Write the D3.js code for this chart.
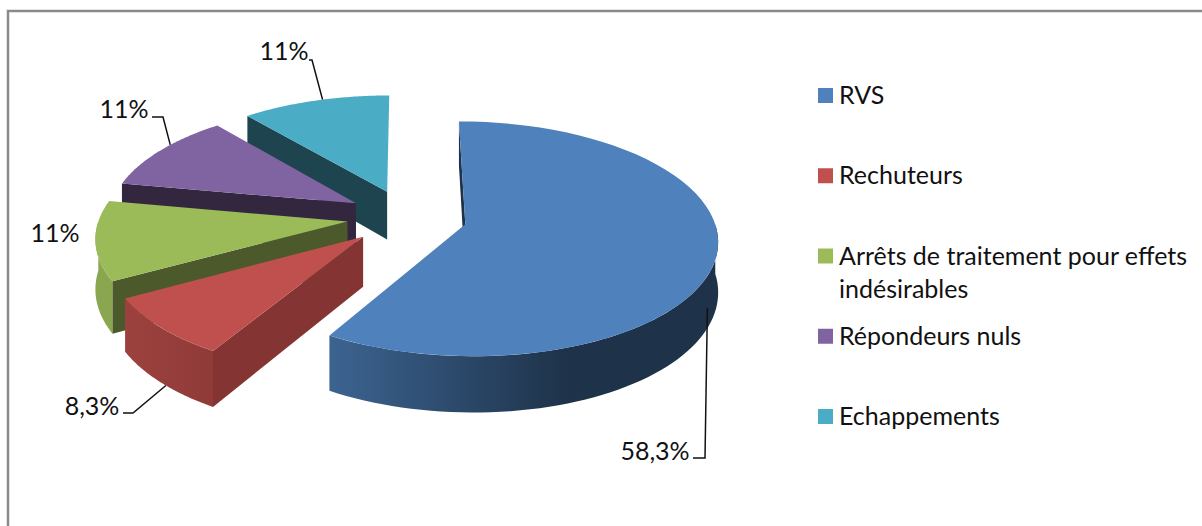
<!DOCTYPE html>
<html>
<head>
<meta charset="utf-8">
<script src="https://cdn.jsdelivr.net/npm/d3@7"></script>
<style>
    html, body { margin: 0; padding: 0; background: #fff; overflow: hidden; }
    svg { display: block; }
    text { font-family: Lato, "Open Sans", sans-serif; fill: #111; }
</style>
</head>
<body>
<div id="chart"></div>
<script>
// data
const categories = ['RVS', 'Rechuteurs', 'Arrêts de traitement pour effets indésirables', 'Répondeurs nuls', 'Echappements'];
const values = [58.3, 8.3, 11, 11, 11];

const topColors = ['#4f81bd', '#c0504d', '#9bbb59', '#8064a2', '#4bacc6'];
const edgeColors = ['#1e3249', '#843533', '#4c5a2b', '#33273f', '#1e4450'];
const rimLeftColors = ['#3c6491', '#9c413e', '#8aa64f', '#6a5387', '#3d8da3'];
const rimRightColors = ['#1e3249', '#903b38', '#8aa64f', '#6a5387', '#3d8da3'];

const width = 1202, height = 526;

// pie plane -> screen
const cx = 407, cy = 217, radius = 248, explode = 60, depth = 49;
const tilt = 0.459, persp = 0.122;

function project(a, b, drop = 0) {
    let f = 1 / (1 - persp * b / radius);
    return [cx + a * f, cy + (b * tilt + drop) * f];
}

let svg = d3.select('#chart').append('svg')
    .attr('width', width)
    .attr('height', height);

// frame, open on the right and bottom
svg.append('path')
    .attr('d', `M8,${height}V11H${width}`)
    .attr('fill', 'none')
    .attr('stroke', '#8a8a8a')
    .attr('stroke-width', 2.5);

let defs = svg.append('defs');
let line = d3.line();

let slices = d3.pie().sort(null)(values).map((d, i) => {
    let mid = (d.startAngle + d.endAngle) / 2;
    d.i = i;
    d.ox = explode * Math.sin(mid);
    d.oy = -explode * Math.cos(mid);
    return d;
});

function rimPoint(d, angle, drop = 0) {
    return project(d.ox + radius * Math.sin(angle), d.oy - radius * Math.cos(angle), drop);
}

function arcPoints(d, from, to, drop = 0) {
    return d3.range(0, 61).map(k => rimPoint(d, from + (to - from) * k / 60, drop));
}

// back slices first, blue in front
let order = [4, 3, 2, 1, 0];

order.forEach(i => {
    let d = slices[i];
    let g = svg.append('g').attr('class', 'slice');
    let apex = project(d.ox, d.oy);
    let apexLow = project(d.ox, d.oy, depth);

    // outer wall, only the part turned to the viewer
    let from = Math.max(d.startAngle, Math.PI / 2);
    let to = Math.min(d.endAngle, Math.PI * 3 / 2);
    if (to > from) {
        let upper = arcPoints(d, from, to);
        let lower = arcPoints(d, to, from, depth);
        let x0 = upper[0][0], x1 = upper[60][0];
        let grad = defs.append('linearGradient')
            .attr('id', `rim${i}`)
            .attr('gradientUnits', 'userSpaceOnUse')
            .attr('x1', x1).attr('y1', 0)
            .attr('x2', x0).attr('y2', 0);
        grad.append('stop').attr('offset', 0).attr('stop-color', rimLeftColors[i]);
        grad.append('stop').attr('offset', i == 0 ? 0.62 : 1).attr('stop-color', rimRightColors[i]);
        grad.append('stop').attr('offset', 1).attr('stop-color', rimRightColors[i]);
        g.append('path')
            .attr('d', line(upper.concat(lower)) + 'Z')
            .attr('fill', `url(#rim${i})`);
    }

    // cut face on the start edge
    let edge = rimPoint(d, d.startAngle);
    let edgeLow = rimPoint(d, d.startAngle, depth);
    g.append('path')
        .attr('d', line([apex, edge, edgeLow, apexLow]) + 'Z')
        .attr('fill', edgeColors[i]);

    // top face
    g.append('path')
        .attr('d', line([apex].concat(arcPoints(d, d.startAngle, d.endAngle))) + 'Z')
        .attr('fill', topColors[i]);
});

// data labels
const labelFont = 25;
let fmt = v => `${v}%`.replace('.', ',');

// leader lines start on the rim of their slice
let labelSpots = [
    {x: 655, y: 460, elbow: [[693, 458], [705, 458]], at: 0.546, drop: 30},
    {x: 92, y: 415, elbow: [[123, 413], [133, 413]], at: 0.44, drop: 49},
    {x: 55, y: 242, elbow: null},
    {x: 124, y: 118, elbow: [[152, 117], [163, 117]], at: 0.6, drop: 0},
    {x: 284, y: 60, elbow: [[309, 60], [312, 60]], at: 0.55, drop: 0}
];

slices.forEach((d, i) => {
    let s = labelSpots[i];
    svg.append('text')
        .attr('x', s.x)
        .attr('y', s.y)
        .attr('text-anchor', 'middle')
        .attr('font-size', labelFont)
        .text(fmt(values[i]));
    if (s.elbow) {
        let end = rimPoint(d, d.startAngle + (d.endAngle - d.startAngle) * s.at, s.drop);
        svg.append('path')
            .attr('d', line(s.elbow.concat([end])))
            .attr('fill', 'none')
            .attr('stroke', '#111')
            .attr('stroke-width', 1.5);
    }
});

// legend
const legendX = d3.scalePoint().domain(categories).range([96, 417]);
let legend = svg.append('g').attr('class', 'legend');

categories.forEach((c, i) => {
    let y = legendX(c);
    legend.append('rect')
        .attr('x', 818)
        .attr('y', y - 8)
        .attr('width', 15)
        .attr('height', 15)
        .attr('fill', topColors[i]);
    let lines = c.length > 32 ? [c.slice(0, 32), c.slice(33)] : [c];
    lines.forEach((t, k) => {
        legend.append('text')
            .attr('x', 839)
            .attr('y', y + 8 + k * 33)
            .attr('font-size', 25)
            .text(t);
    });
});
</script>
</body>
</html>
